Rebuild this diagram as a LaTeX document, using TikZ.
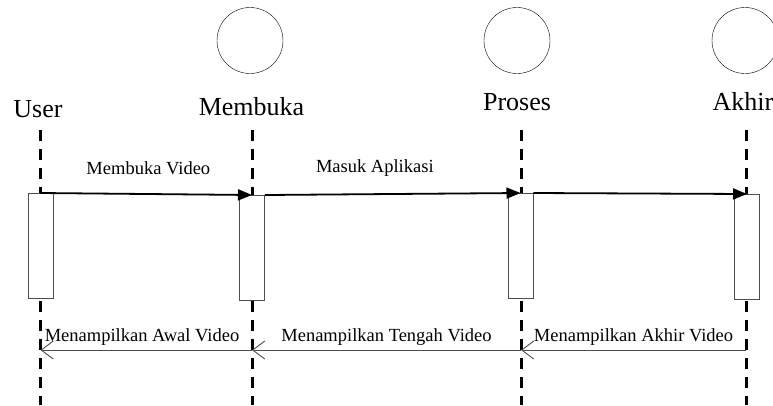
\documentclass[tikz,border=0pt]{standalone}
\usepackage{fontspec}
\setmainfont{Liberation Serif}
\usetikzlibrary{arrows.meta}
\tikzset{
 objhead/.style={circle, draw, thin, minimum size=66pt, inner sep=0pt},
 objname/.style={anchor=base, inner sep=0pt, font=\fontsize{26}{30}\selectfont},
 lifeline/.style={black, line width=3pt, dash pattern=on 11pt off 8pt},
 actbox/.style={draw=black!70, fill=white, line width=0.9pt, minimum width=25pt, minimum height=105pt, anchor=north, inner sep=0pt},
 callmsg/.style={black, line width=1.8pt, -{Triangle[length=14pt,width=11pt]}},
 backmsg/.style={black!70, line width=0.9pt, -{Straight Barb[length=12pt,width=18pt]}},
 msglabel/.style={anchor=base, inner sep=0pt, text=black, font=\fontsize{18.5}{22}\selectfont}
}
\begin{document}
\begin{tikzpicture}[x=1pt,y=-1pt]
\useasboundingbox (0,0) rectangle (773,405);
% kepala objek
\node[objhead] (mc) at (250,40.5) {};
\node[objhead] (pc) at (517,40.5) {};
\node[objhead] (ac) at (745,40.5) {};
\node[objname] (user) at (38,117) {User};
\node[objname] (membuka) at (251.5,115) {Membuka};
\node[objname] (proses) at (517,110) {Proses};
\node[objname] (akhir) at (743,110) {Akhir};
% lifeline
\foreach \n/\x in {u/40.5, m/252, p/521, a/746} {
 \coordinate (\n0) at (\x,130);
 \coordinate (\n1) at (\x,405);
 \coordinate (\n3) at (\x,350);
 \draw[lifeline] (\n0) -- (\n1);
}
% aktivasi
\node[actbox] (ua) at (40.5,193) {};
\node[actbox] (ma) at (252,195) {};
\node[actbox] (pa) at (520.5,193) {};
\node[actbox] (aa) at (747,194) {};
% pesan
\draw[callmsg] (ua.north) -- (ma.north) node[msglabel, pos=0.51, yshift=20pt] {Membuka Video};
\draw[callmsg] (ma.north east) -- (pa.north) node[msglabel, pos=0.43, yshift=22pt] {Masuk Aplikasi};
\draw[callmsg] (pa.north east) -- (aa.north);
\draw[backmsg] (a3) -- (p3) node[msglabel, midway, yshift=8.5pt] {Menampilkan Akhir Video};
\draw[backmsg] (p3) -- (m3) node[msglabel, midway, yshift=8.5pt] {Menampilkan Tengah Video};
\draw[backmsg] (m3) -- (u3) node[msglabel, pos=0.52, yshift=8.5pt] {Menampilkan Awal Video};
\end{tikzpicture}
\end{document}
